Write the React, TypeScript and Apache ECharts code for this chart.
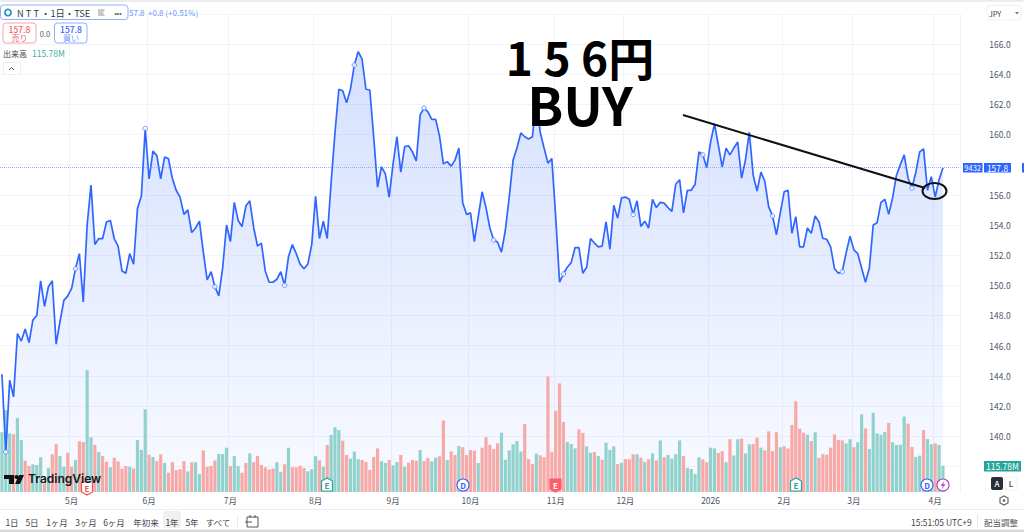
import React, { useEffect, useRef } from "react";
import * as echarts from "echarts";

const prices = [
144.1,138.95,143.7,142.6,146.8,146.3,147.1,146.2,147.7,148.0,
150.3,148.6,149.9,150.3,146.1,147.6,149.0,149.3,149.8,151.1,
152.1,148.9,154.0,156.65,152.7,153.1,153.1,154.2,154.3,153.1,
152.6,150.95,150.8,152.1,151.4,155.1,155.9,160.4,157.05,158.9,
158.6,157.05,158.5,158.4,157.1,156.3,155.85,154.7,155.0,153.5,
153.8,154.25,152.2,150.35,150.9,149.9,149.3,151.15,154.0,152.9,
155.5,154.3,153.9,155.25,155.6,153.85,152.6,152.8,150.95,150.2,
150.2,150.4,150.9,150.0,151.9,152.7,152.1,151.4,151.1,151.4,
152.7,155.9,153.1,154.25,153.1,156.8,160.1,163.0,162.9,162.1,
163.0,164.6,165.5,165.0,163.0,162.95,159.85,156.5,157.85,157.4,
155.85,158.05,159.85,157.5,159.2,159.25,158.85,158.25,161.3,161.75,
161.5,161.0,161.0,159.9,158.05,158.2,157.9,158.3,159.1,155.45,
154.7,154.8,152.9,154.55,156.2,155.15,153.8,153.0,152.85,152.2,
153.65,155.85,158.3,159.1,160.1,159.85,159.7,159.85,162.5,160.15,
159.1,158.1,158.4,154.55,150.2,150.75,151.2,151.5,152.5,152.5,
150.8,151.2,153.1,152.8,152.55,152.6,154.2,152.4,155.3,154.45,
155.8,155.85,155.7,154.7,155.6,153.9,154.25,153.8,155.7,155.15,
155.5,155.45,155.15,154.9,156.7,157.0,154.8,156.3,156.3,156.7,
158.85,158.65,157.8,159.5,160.7,159.3,157.85,159.1,158.65,159.1,
159.5,157.1,158.3,160.15,157.3,156.25,157.5,156.9,155.2,154.6,
153.35,154.8,156.2,156.3,153.45,154.55,152.55,152.55,153.8,153.45,
154.6,154.2,153.1,153.05,152.55,151.1,150.8,150.9,152.15,153.25,
152.35,152.1,151.15,150.2,151.15,154.0,154.15,155.5,155.7,154.7,
155.8,157.3,158.0,158.65,157.1,156.45,157.5,158.85,159.05,156.3,
157.2,155.85,157.0,157.8,
];

const volumes = [
263,361,258,254,326,229,138,114,122,119,
153,38,106,166,211,158,111,173,111,141,
223,220,537,241,207,176,158,133,109,151,
135,103,114,111,103,229,185,364,164,154,
136,166,128,85,131,97,100,136,91,131,
131,79,183,111,114,139,167,167,195,114,
158,114,85,128,170,131,158,119,109,100,
104,131,89,122,195,109,109,116,106,91,
100,158,139,111,207,251,285,273,226,163,
147,178,145,141,132,98,154,192,136,128,
141,117,132,163,111,129,141,138,185,136,
150,135,151,157,315,141,179,163,202,197,
163,185,182,128,195,241,207,189,214,261,
142,183,210,224,178,299,145,123,169,161,
153,508,176,358,478,308,220,211,192,276,
260,201,173,176,158,142,217,185,201,123,
129,145,144,166,166,151,133,144,170,139,
227,153,163,147,166,227,158,106,101,79,
153,144,131,195,192,172,180,131,232,161,
232,235,170,210,211,239,195,183,267,180,
263,197,201,192,295,399,279,261,252,224,
263,150,167,164,195,254,229,227,214,232,
197,219,342,280,189,349,258,252,264,304,
219,207,208,332,301,198,154,160,273,233,
210,214,207,115.78,
];

const volumeSides = (
"GGGRGGRRGG GRGRRGGRRG RRGGRGRRGR RRRGRGGGRG RRGRRRRRGR GGRRRRGGGR " +
"GGRRGRRRRR RGGRGRRRRG GGRGRGGGRR GGGRRRRRGG RGGRGRRRGR RGGRRGRRGR " +
"RRRGRRRRRG GGGGGRRRGR RRRRRRGGGR RGGRGRGGGR GRRRGRGRGR GRGGGGRGGG " +
"GRRGGRRGRG GRGGRRGRRR RGRRRRRRGR GRRRRRRRGG RGGRGGGGGR GGGGRRGGRG GRGG"
).replace(/ /g, "").split("");

const monthStarts = [18, 38, 59, 81, 101, 121, 143, 161, 183, 202, 220, 241];
const monthLabels = ["5月", "6月", "7月", "8月", "9月", "10月", "11月", "12月", "2026", "2月", "3月", "4月"];
const eventMarkers = [1, 19, 37, 55, 73, 91, 109, 127, 145, 163, 181, 199, 217, 235];
const rangeLabels = ["1日", "5日", "1ヶ月", "3ヶ月", "6ヶ月", "年初来", "1年", "5年", "すべて"];
const rangeCenters = [12, 32, 57, 86, 114, 146, 172, 192, 218];

const BLUE = "#2f66ff";
const FONT = "'Noto Sans CJK JP', 'Noto Sans', sans-serif";
const SLOTS = 248;
const cats = Array.from({ length: SLOTS }, (_, i) => String(i));
const isMonth = (i: number) => monthStarts.indexOf(i) >= 0;

const t = (text: string, x: number, y: number, size: number, fill: string, align = "left", weight: any = 400, family = FONT) => ({
  type: "text", z: 20, silent: true,
  style: { text, x, y, fill, align, verticalAlign: "middle", fontSize: size, fontWeight: weight, fontFamily: family },
});
const box = (x: number, y: number, w: number, h: number, fill: string, stroke = "none", r = 0, z = 19) => ({
  type: "rect", z, silent: true,
  shape: { x, y, width: w, height: h, r },
  style: { fill, stroke, lineWidth: stroke === "none" ? 0 : 1 },
});
const poly = (points: number[][], fill: string, stroke = "none", z = 19) => ({
  type: "polygon", z, silent: true, shape: { points }, style: { fill, stroke, lineWidth: stroke === "none" ? 0 : 1.2 },
});
const seg = (x1: number, y1: number, x2: number, y2: number, stroke: string, lineWidth = 1, z = 19) => ({
  type: "line", z, silent: true, shape: { x1, y1, x2, y2 }, style: { stroke, lineWidth },
});
const badgeRing = (x: number, color: string) => ({
  type: "circle", z: 19, silent: true, shape: { cx: x, cy: 485, r: 6 }, style: { fill: "#fff", stroke: color, lineWidth: 1.1 },
});
const badgeHouse = (x: number, color: string) => [
  poly([[x - 5.5, 481], [x, 478], [x + 5.5, 481], [x + 5.5, 491], [x - 5.5, 491]], "#fff", color),
  t("E", x, 485, 8, color, "center", 700),
];
const badgeShield = (x: number, color: string, filled: boolean, y = 485) => [
  poly([[x - 5.5, y - 6], [x + 5.5, y - 6], [x + 5.5, y + 4], [x, y + 7], [x - 5.5, y + 4]], filled ? color : "#fff", color),
  t("E", x, y, 8, filled ? "#fff" : color, "center", 700),
];

const graphicElements: any[] = [
  box(0, 492, 1024, 38, "#fff", "none", 0, 5),
  box(0, 0, 1024, 2, "#ececec"),
  box(0, 529.5, 1024, 2.5, "#d8d8d8"),
  seg(0, 509.5, 1024, 509.5, "#eceef2"),

  box(0.5, 5, 127.5, 14.5, "#fff", "#8fb0fb", 3),
  { type: "ring", z: 20, silent: true, shape: { cx: 8, cy: 12.5, r: 4, r0: 2.2 }, style: { fill: "#2f8fc9" } },
  t("N T T ・1日・TSE", 17, 12.5, 9.3, "#333a45"),
  poly([[98, 9], [105, 9], [103, 12.5], [105, 16], [98, 16]], "#c9c9c9"),
  t("•••", 118, 12.5, 7, "#555", "center"),
  t("57.8", 129, 12.5, 8, "#6f95fb"),
  t("+0.8 (+0.51%)", 148, 12.5, 8, "#6f95fb"),
  box(3, 23, 33, 20, "#fff", "#f7a3a8", 3),
  t("157.8", 19.5, 29, 8.5, "#f2646e", "center", 500),
  t("売り", 19.5, 37.5, 8, "#f2646e", "center"),
  t("0.0", 45, 33, 7.5, "#555", "center"),
  box(54.5, 23, 32.5, 20, "#fff", "#8fb0fb", 3),
  t("157.8", 71, 29, 8.5, BLUE, "center", 500),
  t("買い", 71, 37.5, 8, "#6f95fb", "center"),
  t("出来高", 3, 53.5, 8, "#444"),
  t("115.78M", 32, 53, 8.5, "#3cb0a5"),
  box(3.5, 62.5, 17, 12, "#fff", "#eceef2", 2),
  { type: "polyline", z: 20, silent: true, shape: { points: [[9, 70], [11.5, 67.5], [14, 70]] }, style: { stroke: "#444", fill: "none", lineWidth: 1 } },

  box(987, 5.5, 34, 14.5, "#fff", "#eef0f3", 3),
  t("JPY", 995, 13, 7.5, "#444", "center"),
  poly([[1015, 12], [1019, 12], [1017, 14.5]], "#777"),

  box(963, 163, 19.5, 9.5, BLUE),
  t("9432", 972.7, 167.8, 7.5, "#fff", "center"),
  box(984, 163, 27, 9.5, BLUE),
  t("157.8", 997.5, 167.8, 8.5, "#fff", "center"),
  box(1022, 163, 2, 9.5, BLUE),

  box(984, 461, 37, 10.5, "#26a69a"),
  t("115.78M", 1002.5, 466.3, 8.5, "#fff", "center"),
  box(991, 477, 12, 13, "#2a2e39", "none", 2),
  t("A", 997, 483.5, 8, "#fff", "center", 500),
  box(1005, 477, 12, 13, "#fff", "#eef0f3", 2),
  t("L", 1011, 483.5, 8, "#444", "center", 500),
  poly([[1000, 498], [1004, 496], [1008, 498], [1008, 503], [1004, 505], [1000, 503]], "#fff", "#666"),
  { type: "circle", z: 20, silent: true, shape: { cx: 1004, cy: 500.5, r: 1.3 }, style: { fill: "#666" } },

  box(163, 511, 18, 17, "#f0f0f0", "none", 2, 6),
  ...rangeLabels.map((label, i) => t(label, rangeCenters[i], 522, 8.5, "#3f434c", "center")),
  seg(237.5, 515, 237.5, 527, "#e6e8ec"),
  box(247, 517, 11, 10, "#fff", "#555"),
  seg(245, 522, 252, 522, "#555"),
  seg(250, 515, 250, 518, "#555"),
  seg(255, 515, 255, 518, "#555"),
  t("15:51:05 UTC+9", 911, 521.5, 8.5, "#3f434c"),
  seg(977.5, 514, 977.5, 528, "#e6e8ec"),
  t("配当調整", 984, 521.5, 8.5, "#555"),

  ...badgeShield(87, "#ef5350", false, 488),
  poly([[4, 475], [14, 475], [14, 484], [9, 484], [9, 479], [4, 479]], "#111"),
  { type: "circle", z: 20, silent: true, shape: { cx: 16.5, cy: 477, r: 2 }, style: { fill: "#111" } },
  poly([[19, 475], [24, 475], [20, 484], [15, 484]], "#111"),
  t("TradingView", 28, 478.5, 12, "#131722", "left", 600, "Inter, sans-serif"),

  ...badgeHouse(327, "#26a69a"),
  badgeRing(463, BLUE),
  t("D", 463, 485, 8, BLUE, "center", 700),
  ...badgeShield(555.5, "#ff5d6c", true),
  ...badgeHouse(796, "#26a69a"),
  badgeRing(927, BLUE),
  t("D", 927, 485, 8, BLUE, "center", 700),
  badgeRing(943, "#ab47bc"),
  poly([[944.5, 480.5], [940.5, 485.8], [943, 485.8], [941.5, 489.5], [945.5, 484.2], [943, 484.2]], "#ab47bc", "none", 20),

  seg(683, 115, 925, 188, "#111", 2, 21),
  { type: "ellipse", z: 21, silent: true, shape: { cx: 934.5, cy: 191, rx: 12, ry: 8 }, style: { fill: "none", stroke: "#111", lineWidth: 2 } },
  t("1 5 6円", 580, 56, 46, "#000", "center", 700),
  t("BUY", 580, 103, 53, "#000", "center", 700),
];

export default function App() {
  const ref = useRef<HTMLDivElement>(null);
  useEffect(() => {
    const chart = echarts.init(ref.current!, undefined, { renderer: "svg" });
    chart.setOption({
      animation: false,
      textStyle: { fontFamily: FONT },
      grid: [
        { left: -0.64, top: 13.84, width: 961, height: 482.56, containLabel: false },
        { left: -0.64, top: 360, width: 961, height: 132, containLabel: false },
      ],
      xAxis: [
        {
          type: "category", gridIndex: 0, data: cats,
          axisLine: { show: false }, axisLabel: { show: false },
          axisTick: { show: false, alignWithLabel: true, interval: (i: number) => isMonth(i) },
          splitLine: { show: true, interval: (i: number) => isMonth(i), lineStyle: { color: "#f1f3f8", width: 1 } },
        },
        {
          type: "category", gridIndex: 1, data: cats, z: 10,
          axisLine: { show: false }, axisTick: { show: false },
          splitLine: { show: false },
          axisLabel: {
            show: true, interval: (i: number) => isMonth(i), hideOverlap: false,
            margin: 4, fontSize: 8.5, color: "#50555f", fontFamily: FONT,
            formatter: (v: string) => { const k = monthStarts.indexOf(Number(v)); return k >= 0 ? monthLabels[k] : ""; },
          },
        },
      ],
      yAxis: [
        {
          type: "value", gridIndex: 0, position: "right", min: 136, max: 168, interval: 2,
          axisLine: { show: false }, axisTick: { show: false },
          axisLabel: {
            show: true, inside: false, margin: 29, fontSize: 8.5, color: "#50555f", fontFamily: FONT,
            formatter: (v: number) => (v >= 140 && v <= 166 && v !== 158 ? v.toFixed(1) : ""),
          },
          splitLine: { show: true, lineStyle: { color: "#f3f4f7", width: 1 } },
        },
        { type: "value", gridIndex: 1, min: 0, max: 581, show: false, splitLine: { show: false } },
      ],
      series: [
        {
          type: "line", name: "area", xAxisIndex: 0, yAxisIndex: 0, data: prices, z: 1, silent: true,
          symbol: "none", lineStyle: { width: 0 },
          areaStyle: {
            origin: "start",
            color: new echarts.graphic.LinearGradient(0, 0, 0, 1, [
              { offset: 0, color: "rgba(41,98,255,0.28)" },
              { offset: 1, color: "rgba(41,98,255,0.04)" },
            ]),
          },
        },
        {
          type: "bar", name: "出来高", xAxisIndex: 1, yAxisIndex: 1, z: 2, barWidth: 3.2, silent: true,
          data: volumes.map((v, i) => ({
            value: v,
            itemStyle: { color: volumeSides[i] === "G" ? "#92d2cc" : "#f7a9a7" },
          })),
        },
        {
          type: "line", name: "NTT", xAxisIndex: 0, yAxisIndex: 0, data: prices, z: 3, silent: true,
          symbol: "none", lineStyle: { color: BLUE, width: 1.7 },
          markLine: {
            silent: true, symbol: "none", label: { show: false }, z: 3,
            lineStyle: { color: "#8fb0fb", type: "dotted", width: 1 },
            data: [{ yAxis: prices[prices.length - 1] }],
          },
        },
        {
          type: "scatter", name: "markers", xAxisIndex: 0, yAxisIndex: 0, z: 4, silent: true,
          symbol: "circle", symbolSize: 4.5,
          itemStyle: { color: "#fff", borderColor: BLUE, borderWidth: 0.8 },
          data: eventMarkers.map((i) => [i, prices[i]]),
        },
      ],
      graphic: { elements: graphicElements },
    });
    return () => chart.dispose();
  }, []);
  return (
    <div style={{ position: "absolute", left: 0, top: 0, width: 1024, height: 532, overflow: "hidden", background: "#fff" }}>
      <div ref={ref} style={{ width: 1024, height: 532 }} />
    </div>
  );
}
